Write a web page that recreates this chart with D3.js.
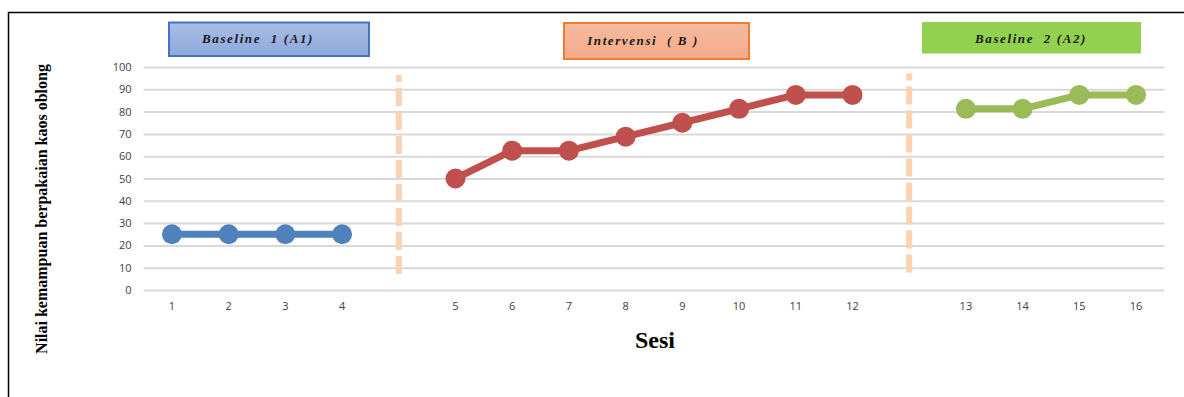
<!DOCTYPE html>
<html><head><meta charset="utf-8">
<script src="https://cdn.jsdelivr.net/npm/d3@7"></script>
<style>html,body{margin:0;padding:0;background:#fff;}svg{display:block;}</style>
</head><body>
<script>
const slots = ["1","2","3","4","g1","5","6","7","8","9","10","11","12","g2","13","14","15","16"];
const baseline1Sessions = ["1","2","3","4"];
const baseline1Values = [25,25,25,25];
const interventionSessions = ["5","6","7","8","9","10","11","12"];
const interventionValues = [50,62.5,62.5,68.75,75,81.25,87.5,87.5];
const baseline2Sessions = ["13","14","15","16"];
const baseline2Values = [81.25,81.25,87.5,87.5];
const yTicks = [0,10,20,30,40,50,60,70,80,90,100];
const phaseDividers = ["g1","g2"];
const phaseLabels = ["Baseline  1 (A1)","Intervensi  ( B )","Baseline  2 (A2)"];

const W=1184,H=397;
const svg=d3.select("body").append("svg").attr("width",W).attr("height",H);

const x=d3.scaleBand().domain(slots).range([143.6,1164.4]).padding(0);
const y=d3.scaleLinear().domain([0,100]).range([290,67]);
const cx=s=>x(s)+x.bandwidth()/2;

// frame
svg.append("line").attr("x1",8).attr("x2",W).attr("y1",12.5).attr("y2",12.5).attr("stroke","#000").attr("stroke-width",1.5);
svg.append("line").attr("x1",8.5).attr("x2",8.5).attr("y1",12).attr("y2",H).attr("stroke","#000").attr("stroke-width",1.5);

// grid
const yAxis=d3.axisLeft(y).tickValues(yTicks).tickSize(-(1164.4-143.6)).tickPadding(12);
const gy=svg.append("g").attr("transform","translate(143.6,0)").call(yAxis);
gy.select(".domain").remove();
gy.selectAll(".tick line").attr("stroke","#D9D9D9").attr("stroke-width",2);
gy.selectAll(".tick text").attr("font-family","Open Sans, Liberation Sans, sans-serif").attr("font-size",11).attr("fill","#404040");

const xAxis=d3.axisBottom(x).tickSize(0).tickPadding(12).tickFormat(d=>d.startsWith("g")?"":d);
const gx=svg.append("g").attr("transform","translate(0,290)").call(xAxis);
gx.select(".domain").remove();
gx.selectAll(".tick text").attr("font-family","Open Sans, Liberation Sans, sans-serif").attr("font-size",11).attr("fill","#404040");

// phase dividers
const divTop=[75,73.5], divBot=[274,273];
phaseDividers.forEach((g,i)=>{
  svg.append("line").attr("x1",cx(g)).attr("x2",cx(g)).attr("y1",divTop[i]).attr("y2",divBot[i])
    .attr("stroke","#FBD3B1").attr("stroke-width",6)
    .attr("stroke-dasharray","18,6").attr("stroke-dashoffset",11);
});

// series
function series(sessions,values,color){
  const data=sessions.map((s,i)=>({s,v:values[i]}));
  const line=d3.line().x(d=>cx(d.s)).y(d=>y(d.v));
  svg.append("path").datum(data).attr("d",line).attr("fill","none").attr("stroke",color).attr("stroke-width",7).attr("stroke-linejoin","round");
  svg.selectAll(null).data(data).enter().append("circle").attr("cx",d=>cx(d.s)).attr("cy",d=>y(d.v)).attr("r",10).attr("fill",color);
}
series(baseline1Sessions,baseline1Values,"#4F81BD");
series(interventionSessions,interventionValues,"#C0504D");
series(baseline2Sessions,baseline2Values,"#9BBB59");

// phase label boxes
const defs=svg.append("defs");
const gb=defs.append("linearGradient").attr("id","gb").attr("x1",0).attr("y1",0).attr("x2",0).attr("y2",1);
gb.append("stop").attr("offset","0%").attr("stop-color","#A9BDE6");
gb.append("stop").attr("offset","100%").attr("stop-color","#8DA8DC");
const go=defs.append("linearGradient").attr("id","go").attr("x1",0).attr("y1",0).attr("x2",0).attr("y2",1);
go.append("stop").attr("offset","0%").attr("stop-color","#F6BA9E");
go.append("stop").attr("offset","100%").attr("stop-color","#F4AB8A");
const boxes=[
  {x0:169,x1:369,y0:22.5,y1:56,fill:"url(#gb)",stroke:"#4472C4",tx:258,ty:43},
  {x0:564,x1:749,y0:23,y1:59,fill:"url(#go)",stroke:"#ED7D31",tx:643,ty:45},
  {x0:922,x1:1141,y0:22,y1:53.5,fill:"#92D050",stroke:"none",tx:1031,ty:43}
];
boxes.forEach((b,i)=>{
  svg.append("rect").attr("x",b.x0).attr("y",b.y0).attr("width",b.x1-b.x0).attr("height",b.y1-b.y0)
    .attr("fill",b.fill).attr("stroke",b.stroke).attr("stroke-width",2);
  svg.append("text").attr("x",b.tx).attr("y",b.ty).attr("text-anchor","middle")
    .attr("font-family","Liberation Serif, Times New Roman, serif").attr("font-style","italic").attr("font-weight","bold")
    .attr("font-size",13).attr("letter-spacing",1.6).attr("fill","#1a1a1a").style("white-space","pre").text(phaseLabels[i]);
});

// axis titles
svg.append("text").attr("transform","translate(47,209) rotate(-90)").attr("text-anchor","middle")
  .attr("font-family","Liberation Serif, Times New Roman, serif").attr("font-weight","bold").attr("font-size",16)
  .attr("fill","#000").text("Nilai kemampuan berpakaian kaos oblong");
svg.append("text").attr("x",655).attr("y",348).attr("text-anchor","middle")
  .attr("font-family","Liberation Serif, Times New Roman, serif").attr("font-weight","bold").attr("font-size",24)
  .attr("fill","#000").text("Sesi");
</script>
</body></html>
